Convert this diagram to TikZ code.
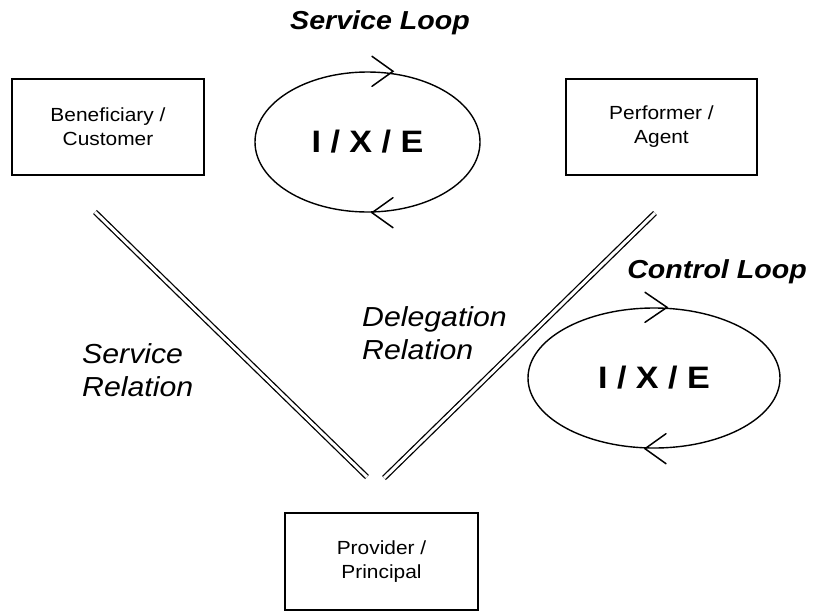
\documentclass[tikz,border=0pt]{standalone}
\usepackage{fontspec}
\setmainfont{Liberation Sans}[FakeStretch=1.1]
\usetikzlibrary{shapes.geometric,calc}
\begin{document}
\begin{tikzpicture}[x=1pt,y=-1pt,
  rolebox/.style={draw,line width=2pt,minimum width=192pt,minimum height=96pt,inner sep=0pt,align=center,font=\fontsize{19}{24}\selectfont},
  loop/.style={draw,ellipse,line width=1.4pt,inner sep=0pt,font=\fontsize{31}{34}\selectfont\bfseries},
  looplabel/.style={font=\fontsize{26}{30}\selectfont\bfseries\itshape,inner sep=0pt},
  rellabel/.style={font=\fontsize{27.5}{33}\selectfont\itshape,inner sep=0pt,align=left,anchor=west},
  relation/.style={double,double distance=3pt,line width=1.3pt},
  openhead/.style={line width=1.5pt,line cap=round}]
\useasboundingbox (0,0) rectangle (817,611);

\node[rolebox] (ben) at (108,127) {Beneficiary /\\Customer};
\node[rolebox,minimum width=191pt] (perf) at (661.5,127) {Performer /\\Agent};
\node[rolebox,minimum width=193pt,minimum height=97pt] (prov) at (381.5,561.5) {Provider /\\Principal};

\node[loop,minimum width=225pt,minimum height=140pt] (sl) at (367.5,142) {I / X / E};
\node[loop,minimum width=252pt,minimum height=140pt] (cl) at (654,378) {I / X / E};

\node[looplabel] (sllab) at (380,23) {Service Loop};
\node[looplabel] (cllab) at (717,272) {Control Loop};

\node[rellabel] (srel) at (82,370) {Service\\Relation};
\node[rellabel] (drel) at (362,333) {Delegation\\Relation};

% relations
\coordinate (s1) at (95,212);
\coordinate (s2) at (367,477);
\coordinate (d1) at (655,213);
\coordinate (d2) at (384,478);
\draw[relation] (s1) -- (s2);
\draw[relation] (d1) -- (d2);

% loop arrowheads
\draw[openhead] ($(sl.north)+(4.5,-15)$) -- ($(sl.north)+(25.5,0)$) -- ($(sl.north)+(4.5,15)$);
\draw[openhead] ($(sl.south)+(25.5,-15)$) -- ($(sl.south)+(4.5,0)$) -- ($(sl.south)+(25.5,15)$);
\draw[openhead] ($(cl.north)+(-9,-15)$) -- ($(cl.north)+(13,0)$) -- ($(cl.north)+(-9,15)$);
\draw[openhead] ($(cl.south)+(12,-15)$) -- ($(cl.south)+(-9,0)$) -- ($(cl.south)+(12,15)$);
\end{tikzpicture}
\end{document}
